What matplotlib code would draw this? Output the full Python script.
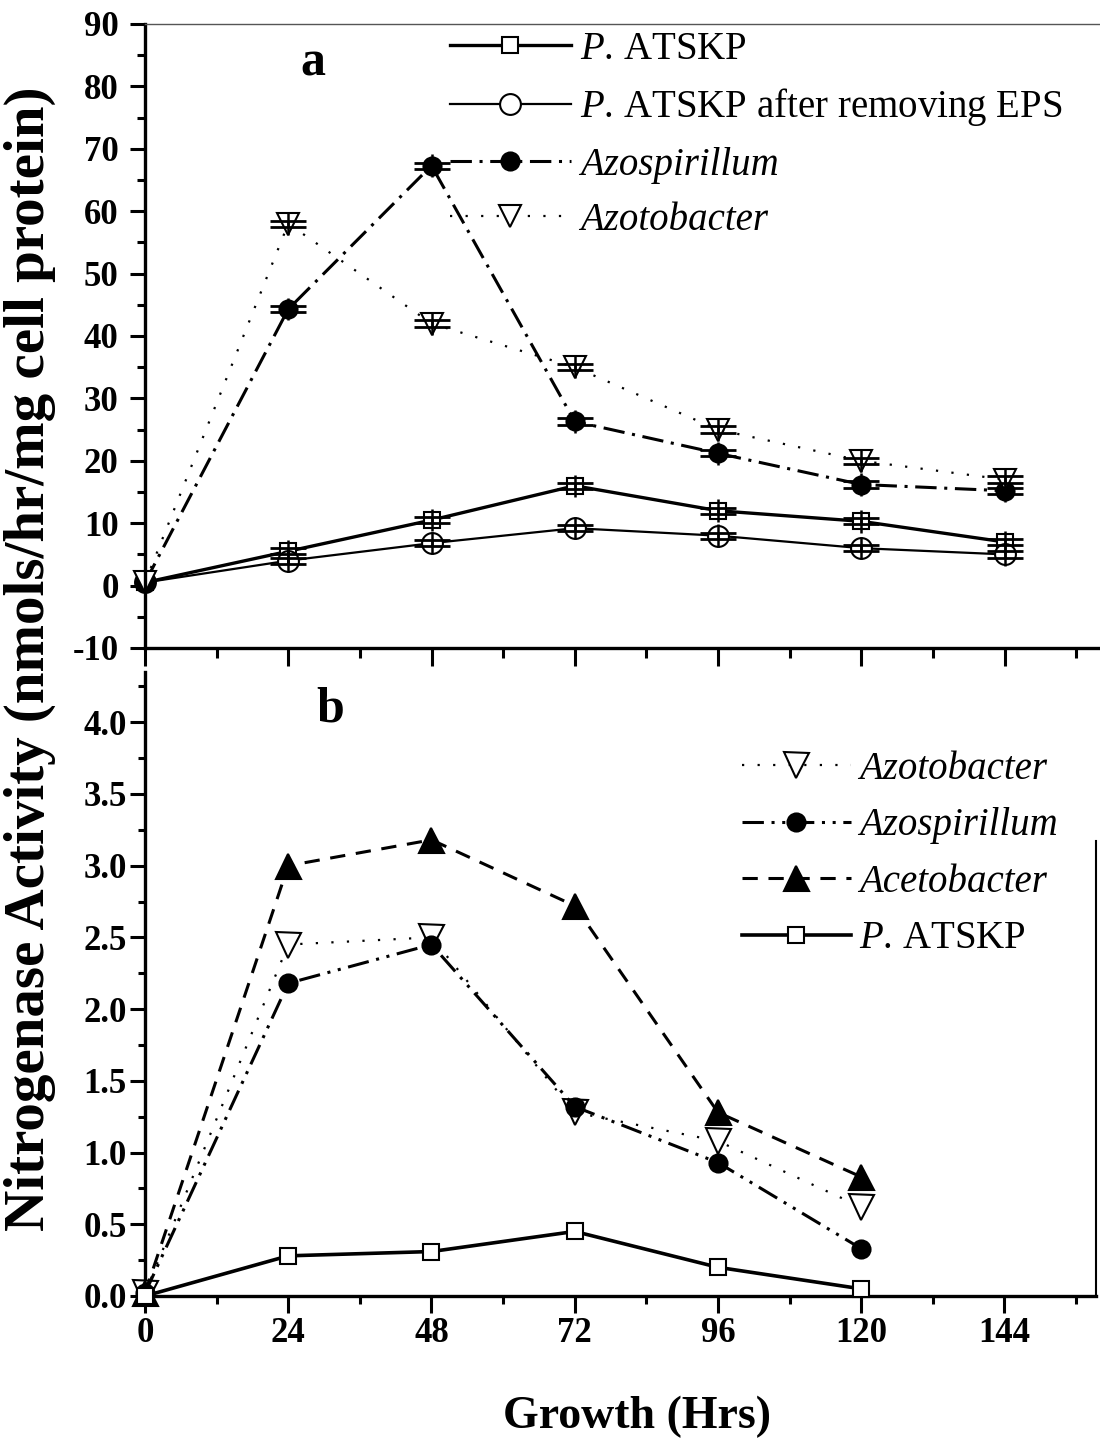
import matplotlib
matplotlib.use('Agg')
import matplotlib.pyplot as plt
from matplotlib.ticker import MultipleLocator, FixedLocator

plt.rcParams['font.family'] = ['Liberation Serif', 'DejaVu Serif']
plt.rcParams['mathtext.fontset'] = 'custom'
plt.rcParams['mathtext.rm'] = 'Liberation Serif'
plt.rcParams['mathtext.it'] = 'Liberation Serif:italic'

# ---------------- data ----------------
hours_a = [0, 24, 48, 72, 96, 120, 144]
a_patskp = [0.5, 5.5, 10.5, 16.0, 12.0, 10.3, 7.0]
a_patskp_eps = [0.5, 4.0, 6.8, 9.2, 8.0, 6.0, 5.0]
a_azospirillum = [0.5, 44.3, 67.3, 26.3, 21.2, 16.2, 15.2]
a_azotobacter = [0.5, 58.0, 42.0, 35.0, 25.0, 20.0, 17.0]
a_cap_err = [0, 0.5, 0.5, 0.5, 0.5, 0.5, 0.5]
a_bar_err = [0, 1.8, 1.8, 1.8, 1.8, 1.8, 1.8]

hours_b = [0, 24, 48, 72, 96, 120]
b_azotobacter = [0.02, 2.45, 2.50, 1.28, 1.08, 0.62]
b_azospirillum = [0.02, 2.18, 2.45, 1.32, 0.93, 0.33]
b_acetobacter = [0.02, 3.00, 3.18, 2.72, 1.28, 0.83]
b_patskp = [0.0, 0.28, 0.31, 0.45, 0.20, 0.05]

xticks = [0, 24, 48, 72, 96, 120, 144]
yticks_a = [-10, 0, 10, 20, 30, 40, 50, 60, 70, 80, 90]
yticks_b = [0.0, 0.5, 1.0, 1.5, 2.0, 2.5, 3.0, 3.5, 4.0]

# ---------------- figure ----------------
W, H = 1100, 1438
fig = plt.figure(figsize=(W / 100, H / 100), dpi=100)

def fx(px):
    return px / W

def fy(py):
    return 1 - py / H

axA = fig.add_axes([fx(145), fy(648), fx(1100) - fx(145), fy(24) - fy(648)])
axB = fig.add_axes([fx(145), fy(1296), fx(1095.5) - fx(145), fy(672) - fy(1296)])

tick_font = dict(fontsize=25, fontweight='bold')

dashdot = (0, (7, 2.5, 1, 2.5))
dotted = (0, (1, 6))
dashed = (0, (5, 3.5))

# ---- panel a ----
series_a = [
    (a_patskp, 's', '-', 2.4, 11, 'white', r'$P$. ATSKP'),
    (a_patskp_eps, 'o', '-', 1.6, 15, 'white', r'$P$. ATSKP after removing EPS'),
    (a_azospirillum, 'o', dashdot, 2.2, 13, 'black', 'Azospirillum'),
    (a_azotobacter, 'v', dotted, 1.6, 16, 'white', 'Azotobacter'),
]
handles_a = []
for vals, mk, ls, lw, ms, mfc, lab in series_a:
    h, = axA.plot(hours_a, vals, linestyle=ls, linewidth=lw, color='black',
                  marker=mk, markersize=ms, markerfacecolor=mfc,
                  markeredgecolor='black', markeredgewidth=1.5, label=lab,
                  zorder=2, clip_on=False)
    handles_a.append(h)
    axA.errorbar(hours_a[1:], vals[1:], yerr=a_bar_err[1:], fmt='none',
                 ecolor='black', elinewidth=1.8, capsize=0, zorder=3)
    axA.errorbar(hours_a[1:], vals[1:], yerr=a_cap_err[1:], fmt='none',
                 ecolor='black', elinewidth=1.8, capsize=13, capthick=2.0,
                 zorder=3)

axA.set_xlim(0, 160)
axA.set_ylim(-10, 90)
axA.yaxis.set_major_locator(FixedLocator(yticks_a))
axA.yaxis.set_minor_locator(MultipleLocator(5))
axA.xaxis.set_major_locator(FixedLocator(xticks))
axA.xaxis.set_minor_locator(MultipleLocator(12))
axA.set_xticklabels([])
axA.set_yticklabels([str(v) for v in yticks_a], **tick_font)
axA.tick_params(axis='y', which='major', direction='out', length=11, width=2.2, pad=8)
axA.tick_params(axis='y', which='minor', direction='out', length=6, width=2.2)
axA.tick_params(axis='x', which='major', direction='out', length=13, width=2.2)
axA.tick_params(axis='x', which='minor', direction='out', length=7, width=2.2)
axA.spines['left'].set_linewidth(2.4)
axA.spines['bottom'].set_linewidth(2.4)
axA.spines['top'].set_linewidth(1.0)
axA.spines['top'].set_color('#555555')
axA.spines['right'].set_visible(False)
axA.patch.set_alpha(0)

legA = axA.legend(handles=handles_a, loc='upper left',
                  bbox_to_anchor=(fx(450), fy(31)), bbox_transform=fig.transFigure,
                  frameon=False, fontsize=28, handlelength=3.1, handletextpad=0.25,
                  labelspacing=0.47, borderpad=0, borderaxespad=0, numpoints=1)
for t in legA.get_texts()[2:]:
    t.set_fontstyle('italic')

fig.text(fx(313), fy(64), 'a', fontsize=36, fontweight='bold', ha='center', va='center')

# ---- panel b ----
series_b = [
    (b_azotobacter, 'v', dotted, 1.6, 18, 'white', 'Azotobacter'),
    (b_azospirillum, 'o', (0, (7, 2.5, 1, 2.5, 1, 2.5)), 2.2, 13, 'black', 'Azospirillum'),
    (b_acetobacter, '^', dashed, 2.2, 18, 'black', 'Acetobacter'),
    (b_patskp, 's', '-', 2.6, 11, 'white', r'$P$. ATSKP'),
]
handles_b = []
for vals, mk, ls, lw, ms, mfc, lab in series_b:
    h, = axB.plot(hours_b, vals, linestyle=ls, linewidth=lw, color='black',
                  marker=mk, markersize=ms, markerfacecolor=mfc,
                  markeredgecolor='black', markeredgewidth=1.5, label=lab,
                  zorder=3, clip_on=False)
    handles_b.append(h)

axB.set_xlim(0, 159.25)
axB.set_ylim(0, 4.35)
axB.yaxis.set_major_locator(FixedLocator(yticks_b))
axB.yaxis.set_minor_locator(MultipleLocator(0.25))
axB.xaxis.set_major_locator(FixedLocator(xticks))
axB.xaxis.set_minor_locator(MultipleLocator(12))
axB.set_xticklabels([str(v) for v in xticks], **tick_font)
axB.set_yticklabels(['%.1f' % v for v in yticks_b], **tick_font)
axB.tick_params(axis='y', which='major', direction='out', length=11, width=2.2, pad=2)
axB.tick_params(axis='y', which='minor', direction='out', length=5, width=2.2)
axB.tick_params(axis='x', which='major', direction='out', length=12, width=2.2, pad=3)
axB.tick_params(axis='x', which='minor', direction='out', length=6, width=2.2)
axB.spines['left'].set_linewidth(2.4)
axB.spines['bottom'].set_linewidth(2.4)
axB.spines['top'].set_visible(False)
axB.spines['right'].set_linewidth(1.5)
axB.spines['right'].set_bounds(0, 3.17)
axB.patch.set_alpha(0)

legB = axB.legend(handles=handles_b, loc='upper left',
                  bbox_to_anchor=(fx(742), fy(751)), bbox_transform=fig.transFigure,
                  frameon=False, fontsize=28, handlelength=2.8, handletextpad=0.2,
                  labelspacing=0.5, borderpad=0, borderaxespad=0, numpoints=1)
for t in legB.get_texts()[:3]:
    t.set_fontstyle('italic')

fig.text(fx(330), fy(710), 'b', fontsize=36, fontweight='bold', ha='center', va='center')

fig.text(fx(30), fy(659), 'Nitrogenase Activity (nmols/hr/mg cell protein)',
         rotation=90, fontsize=41, fontweight='bold', ha='center', va='center')
fig.text(fx(637), fy(1417), 'Growth (Hrs)', fontsize=33, fontweight='bold',
         ha='center', va='center')

fig.savefig('out.png', dpi=100)
